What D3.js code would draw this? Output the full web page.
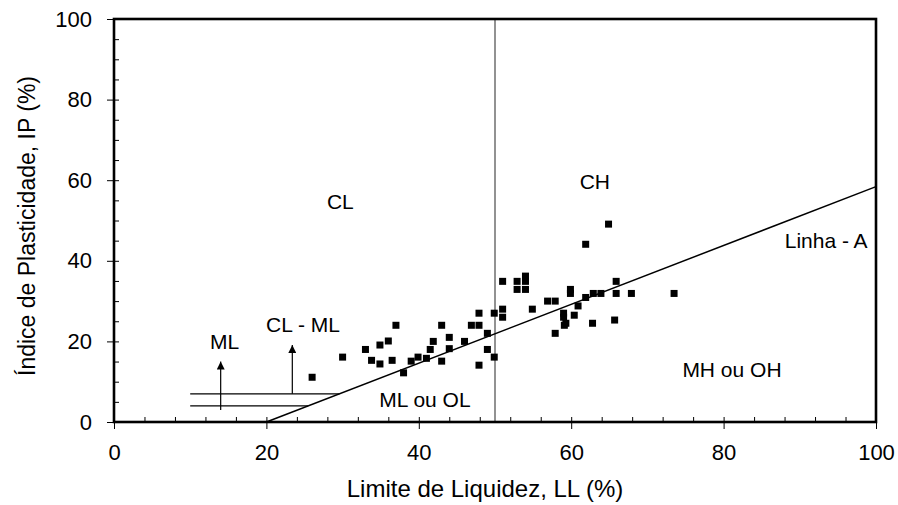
<!DOCTYPE html>
<html>
<head>
<meta charset="utf-8">
<script src="https://cdn.jsdelivr.net/npm/d3@7"></script>
<style>
  body { margin: 0; background: #fff; }
  text { font-family: "Liberation Sans", Arial, sans-serif; fill: #000; }
</style>
</head>
<body>
<svg id="chart" width="898" height="505"></svg>
<script>
// Data: Limite de Liquidez (LL) and Índice de Plasticidade (IP)
const ll = [26.0, 30.0, 33.0, 33.8, 34.9, 34.9, 36.0, 36.5, 37.0, 38.0,
            39.0, 39.9, 41.0, 41.5, 41.9, 43.0, 43.0, 44.0, 44.0, 46.0,
            46.9, 47.9, 47.9, 47.9, 49.0, 49.0, 49.9, 49.9, 51.0, 51.0,
            51.0, 52.9, 54.0, 54.0, 52.9, 54.0, 59.9, 59.9, 65.9, 62.9,
            63.9, 65.9, 67.9, 73.5, 56.9, 57.9, 61.9, 60.9, 54.9, 59.0,
            59.0, 60.4, 59.3, 59.1, 62.8, 65.7, 57.9, 61.9, 64.9];
const ip = [11.1, 16.1, 18.0, 15.3, 19.1, 14.4, 20.1, 15.3, 24.0, 12.2,
            15.1, 16.1, 15.8, 18.0, 20.0, 24.0, 15.1, 21.0, 18.2, 20.0,
            24.0, 27.0, 24.0, 14.1, 22.0, 18.0, 27.0, 16.1, 28.0, 26.0,
            34.9, 34.9, 36.2, 34.9, 32.9, 32.9, 32.9, 31.9, 34.9, 31.9,
            31.9, 31.9, 31.9, 31.9, 30.0, 30.0, 30.9, 28.8, 28.0, 27.0,
            26.0, 26.5, 24.5, 24.0, 24.5, 25.3, 22.0, 44.1, 49.1];

const xTicks = [0, 20, 40, 60, 80, 100];
const yTicks = [0, 20, 40, 60, 80, 100];

// Linha A: IP = 0.73 (LL - 20)
const lineA_ll = [20, 100];
const lineA_ip = lineA_ll.map(v => 0.73 * (v - 20));

// Zone labels (anchor in data units)
const zoneText = ["ML", "CL - ML", "ML ou OL", "CL", "CH", "MH ou OH", "Linha - A"];
const zoneLL   = [14.5, 24.8, 40.8, 29.7, 63.1, 81.1, 98.9];
const zoneIP   = [18.1, 22.3, 3.7, 52.9, 57.8, 11.2, 43.2];
const zoneAnchor = ["middle", "middle", "middle", "middle", "middle", "middle", "end"];

const W = 898, H = 505;
const m = {left: 114, right: 22, top: 19, bottom: 83};
const svg = d3.select("#chart");
const g = svg.append("g").attr("transform", `translate(${m.left},${m.top})`);
const iw = W - m.left - m.right, ih = H - m.top - m.bottom;

const x = d3.scaleLinear().domain([0, 100]).range([0, iw]);
const y = d3.scaleLinear().domain([0, 100]).range([ih, 0]);

// Minor ticks (inside)
g.append("g").attr("transform", `translate(0,${ih})`)
  .call(d3.axisBottom(x).tickValues(d3.range(0, 101, 4)).tickSize(-5).tickFormat(""))
  .call(a => a.select(".domain").remove())
  .call(a => a.selectAll("line").attr("stroke", "#000").attr("stroke-width", 1));
g.append("g")
  .call(d3.axisLeft(y).tickValues(d3.range(0, 101, 5)).tickSize(-5).tickFormat(""))
  .call(a => a.select(".domain").remove())
  .call(a => a.selectAll("line").attr("stroke", "#000").attr("stroke-width", 1));

// Major ticks (outside) with labels
g.append("g").attr("transform", `translate(0,${ih})`)
  .call(d3.axisBottom(x).tickValues(xTicks).tickSize(7).tickPadding(15).tickFormat(d3.format("d")))
  .call(a => a.select(".domain").remove())
  .call(a => a.selectAll("line").attr("stroke", "#000").attr("stroke-width", 1))
  .call(a => a.selectAll("text").style("font-size", "22px").attr("font-family", "Liberation Sans, Arial, sans-serif"));
g.append("g")
  .call(d3.axisLeft(y).tickValues(yTicks).tickSize(7).tickPadding(15).tickFormat(d3.format("d")))
  .call(a => a.select(".domain").remove())
  .call(a => a.selectAll("line").attr("stroke", "#000").attr("stroke-width", 1))
  .call(a => a.selectAll("text").style("font-size", "22px").attr("font-family", "Liberation Sans, Arial, sans-serif"));

// Vertical line LL = 50
g.append("line")
  .attr("x1", x(50)).attr("x2", x(50)).attr("y1", y(100)).attr("y2", y(0))
  .attr("stroke", "#777").attr("stroke-width", 1.6);

// Linha A
g.append("line")
  .attr("x1", x(lineA_ll[0])).attr("y1", y(lineA_ip[0]))
  .attr("x2", x(lineA_ll[1])).attr("y2", y(lineA_ip[1]))
  .attr("stroke", "#000").attr("stroke-width", 1.5);

// CL-ML band lines (IP = 4 and IP = 7 from LL = 10 to Linha A)
[4, 7].forEach(v => {
  g.append("line")
    .attr("x1", x(10)).attr("y1", y(v))
    .attr("x2", x(20 + v / 0.73)).attr("y2", y(v))
    .attr("stroke", "#000").attr("stroke-width", 1.2);
});

// Arrows
svg.append("defs").append("marker")
  .attr("id", "arr").attr("viewBox", "0 0 10 10").attr("refX", 10).attr("refY", 5)
  .attr("markerWidth", 8).attr("markerHeight", 8).attr("markerUnits", "userSpaceOnUse")
  .attr("orient", "auto")
  .append("path").attr("d", "M0,0 L10,5 L0,10 Z").attr("fill", "#000");
const arrows = [[14.0, 3.0, 15.0], [23.4, 7.0, 19.1]];
arrows.forEach(([a, b, c]) => {
  g.append("line")
    .attr("x1", x(a)).attr("y1", y(b)).attr("x2", x(a)).attr("y2", y(c))
    .attr("stroke", "#000").attr("stroke-width", 1.2).attr("marker-end", "url(#arr)");
});

// Points
g.selectAll("rect.pt").data(ll.map((v, i) => [v, ip[i]])).enter()
  .append("rect").attr("class", "pt")
  .attr("x", d => x(d[0]) - 3.5).attr("y", d => y(d[1]) - 3.5)
  .attr("width", 7).attr("height", 7).attr("fill", "#000");

// Zone labels
zoneText.forEach((t, i) => {
  g.append("text").attr("x", x(zoneLL[i])).attr("y", y(zoneIP[i]))
    .attr("text-anchor", zoneAnchor[i]).style("font-size", "21px").text(t);
});

// Frame
g.append("rect").attr("x", 0).attr("y", 0).attr("width", iw).attr("height", ih)
  .attr("fill", "none").attr("stroke", "#000").attr("stroke-width", 2.6);

// Axis titles
svg.append("text").attr("x", 485).attr("y", 497).attr("text-anchor", "middle")
  .style("font-size", "24px").text("Limite de Liquidez, LL (%)");
svg.append("text").attr("transform", "translate(35,226) rotate(-90)").attr("text-anchor", "middle")
  .style("font-size", "23px").text("Índice de Plasticidade, IP (%)");
</script>
</body>
</html>
